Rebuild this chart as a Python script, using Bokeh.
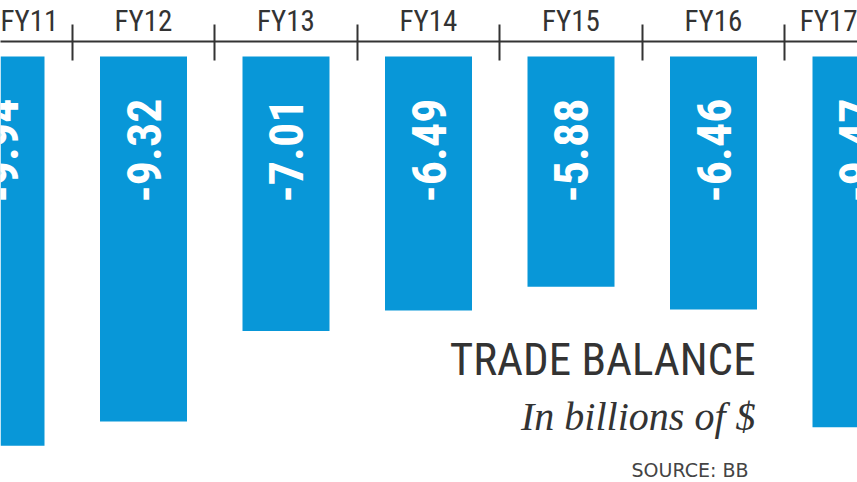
import math
from bokeh.plotting import figure
from bokeh.models import Range1d, FixedTicker, Label, ColumnDataSource
from bokeh.core.properties import value
from bokeh.embed import file_html
from bokeh.resources import INLINE

categories = ["FY11", "FY12", "FY13", "FY14", "FY15", "FY16", "FY17"]
trade_balance = [-9.94, -9.32, -7.01, -6.49, -5.88, -6.46, -9.47]

W, H = 857, 482
TOP = 41            # axis line (frame top) in px
ZERO_PX = 56        # zero line in px
PX_PER_X = 142.5
PX_PER_Y = 39.15
X0_PX = 0.5         # px of first category centre

x_start = -X0_PX / PX_PER_X
x_end = x_start + W / PX_PER_X
y_end = (ZERO_PX - TOP) / PX_PER_Y
y_start = -(H - ZERO_PX) / PX_PER_Y

def px_x(px):
    return x_start + px / PX_PER_X

def px_y(py):
    return -(py - ZERO_PX) / PX_PER_Y

NARROW = "'Roboto Condensed', 'DejaVu Sans Condensed', 'Liberation Sans Narrow', Roboto"
BAR = "#0897d8"
DARK = "#333333"

xs = list(range(len(categories)))
src = ColumnDataSource(dict(
    x=xs, top=[0] * len(xs), bottom=trade_balance,
    label=["{:.2f}".format(v) for v in trade_balance],
    ly=[px_y(98)] * len(xs),
))

p = figure(width=W, height=H, output_backend="svg", toolbar_location=None,
           x_range=Range1d(x_start, x_end), y_range=Range1d(y_start, y_end),
           x_axis_location="above", y_axis_location=None,
           min_border_left=0, min_border_right=0, min_border_bottom=0, min_border_top=TOP)
p.outline_line_color = None
p.grid.visible = False
p.background_fill_color = "white"
p.border_fill_color = "white"

p.vbar(x="x", top="top", bottom="bottom", width=87 / PX_PER_X, source=src,
       fill_color=BAR, line_color=None)
p.text(x="x", y="ly", text="label", source=src, angle=math.pi / 2,
       text_align="right", text_baseline="middle", text_color="white",
       text_font=value(NARROW), text_font_style="bold", text_font_size="48px")

ax = p.xaxis[0]
ax.ticker = FixedTicker(ticks=xs, minor_ticks=[i + 0.5 for i in range(-1, len(xs))])
ax.major_label_overrides = {i: c for i, c in zip(xs, categories)}
ax.major_label_standoff = -13
ax.major_label_text_font = NARROW
ax.major_label_text_font_size = "29px"
ax.major_label_text_color = DARK
ax.major_tick_in = 0
ax.major_tick_out = 0
ax.minor_tick_in = 19
ax.minor_tick_out = 17
ax.minor_tick_line_color = DARK
ax.minor_tick_line_width = 2
ax.axis_line_color = DARK
ax.axis_line_width = 2

def lab(x, py, text, font, size, align="center", style="normal", color=DARK):
    # empirical shift: Label's alphabetic baseline sits ~0.38 em low
    p.add_layout(Label(x=x, y=px_y(py - 0.38 * size), text=text, text_align=align,
                       text_baseline="alphabetic", text_font=font,
                       text_font_style=style, text_font_size=f"{size}px",
                       text_color=color))

lab(px_x(755), 376, "TRADE BALANCE", NARROW, 45, align="right")
lab(px_x(755), 431, "In billions of $", "Liberation Serif", 40, align="right", style="italic")
lab(px_x(748), 477, "SOURCE: BB", "DejaVu Sans", 19, align="right", color="#444444")

open("out.html", "w").write(file_html(p, INLINE))
